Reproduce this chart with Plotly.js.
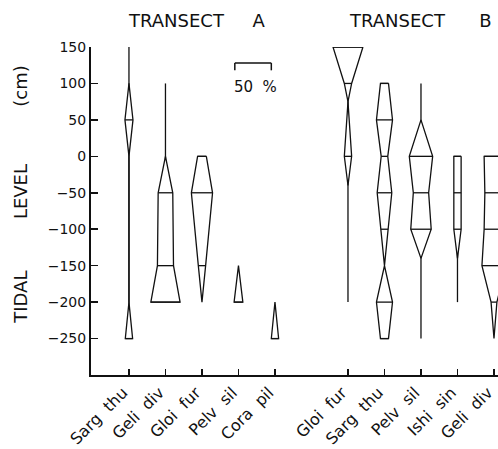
<!DOCTYPE html>
<html>
<head>
<meta charset="utf-8">
<script src="https://cdn.plot.ly/plotly-3.0.1.min.js"></script>
<style>html,body{margin:0;padding:0;background:#fff;overflow:hidden;}#chart{width:498px;height:449px;}</style>
</head>
<body>
<div id="chart"></div>
<script>
// ---- data ----
const species = ["Sarg thu", "Geli div", "Gloi fur", "Pelv sil", "Cora pil",
                 "Gloi fur", "Sarg thu", "Pelv sil", "Ishi sin", "Geli div"];
const speciesPos = [0, 1, 2, 3, 4, 6, 7, 8, 9, 10];
const transects = ["TRANSECT A", "TRANSECT B"];

// tidal levels (cm) and abundance (%) for each kite
const levels = [
  [100, 50, 0, -200, -250],
  [0, -50, -150, -200],
  [0, -50, -150, -200],
  [-150, -200],
  [-200, -250],
  [150, 100, 75, 0, -40],
  [100, 50, 0, -50, -100, -150, -200, -250],
  [50, 0, -50, -100, -140],
  [0, -50, -100, -140],
  [0, -50, -100, -150, -200, -250]
];
const abundance = [
  [0, 11, 0, 0, 10],
  [0, 20, 22, 40],
  [12, 29, 10, 0],
  [0, 12],
  [0, 10],
  [41, 10, 0, 10, 0],
  [11, 22, 9, 20, 10, 0, 22, 11],
  [0, 32, 21, 28, 0],
  [10, 10, 10, 0],
  [27, 25, 27, 33, 8, 0]
];
// vertical range line (present, low abundance)
const rangeTop    = [150, 100, null, null, null, 150, null, 100, 0, null];
const rangeBottom = [-250, -200, null, null, null, -200, null, -250, -200, null];

const yTickVals = [150, 100, 50, 0, -50, -100, -150, -200, -250];
const scaleBarPct = 50;

// ---- drawing ----
const INK = '#111';
const FONT = 'DejaVu Sans, sans-serif';
const NB = n => '\u00a0'.repeat(n);
const unitsPerPct = 1 / 50;   // full kite width: 50 % = 1 category spacing

const traces = [];
const vx = [], vy = [];
species.forEach((s, i) => {
  if (rangeTop[i] !== null) {
    vx.push(speciesPos[i], speciesPos[i], null);
    vy.push(rangeTop[i], rangeBottom[i], null);
  }
});
traces.push({type: 'scatter', mode: 'lines', x: vx, y: vy,
  line: {color: INK, width: 1.3}, hoverinfo: 'skip', showlegend: false});

const hx = [], hy = [];
species.forEach((s, i) => {
  const c = speciesPos[i];
  const lv = levels[i], ab = abundance[i];
  const px = [], py = [];
  for (let j = 0; j < lv.length; j++) { px.push(c + ab[j] * unitsPerPct / 2); py.push(lv[j]); }
  for (let j = lv.length - 1; j >= 0; j--) { px.push(c - ab[j] * unitsPerPct / 2); py.push(lv[j]); }
  px.push(px[0]); py.push(py[0]);
  traces.push({type: 'scatter', mode: 'lines', x: px, y: py, fill: 'toself',
    fillcolor: '#fff', line: {color: INK, width: 1.3}, name: s,
    hoverinfo: 'name', showlegend: false});
  for (let j = 0; j < lv.length; j++) {
    if (ab[j] > 0) {
      const h = ab[j] * unitsPerPct / 2;
      hx.push(c - h, c + h, null); hy.push(lv[j], lv[j], null);
    }
  }
});
traces.push({type: 'scatter', mode: 'lines', x: hx, y: hy,
  line: {color: INK, width: 1.3}, hoverinfo: 'skip', showlegend: false});

const sbW = scaleBarPct * unitsPerPct;
const sbX0 = 2.9, sbY = 128;

const tickText = species.map(s => s.replace(' ', NB(2)));
const tA = transects[0].split(' '), tB = transects[1].split(' ');

const layout = {
  width: 498, height: 449,
  margin: {l: 91, r: 0, t: 47, b: 74},
  paper_bgcolor: '#fff', plot_bgcolor: '#fff',
  font: {family: FONT, color: INK, size: 14},
  showlegend: false,
  xaxis: {
    range: [-1.04, 10.11], showgrid: false, zeroline: false,
    showline: true, linecolor: INK, linewidth: 2,
    ticks: 'inside', ticklen: 6, tickwidth: 1.5, tickcolor: INK,
    tickmode: 'array', tickvals: speciesPos, ticktext: tickText,
    tickangle: -45, ticklabeloverflow: 'allow', ticklabelshift: -6,
    tickfont: {family: FONT, size: 16, color: INK}
  },
  yaxis: {
    range: [-300, 150], showgrid: false, zeroline: false,
    showline: true, linecolor: INK, linewidth: 2,
    ticks: 'inside', ticklen: 7, tickwidth: 1.5, tickcolor: INK,
    tickmode: 'array', tickvals: yTickVals,
    tickfont: {family: FONT, size: 14, color: INK}
  },
  shapes: [
    {type: 'line', xref: 'x', yref: 'y', x0: sbX0, x1: sbX0 + sbW, y0: sbY, y1: sbY,
     line: {color: INK, width: 1.5}},
    {type: 'line', xref: 'x', yref: 'y', x0: sbX0, x1: sbX0, y0: sbY, y1: sbY - 10,
     line: {color: INK, width: 1.5}},
    {type: 'line', xref: 'x', yref: 'y', x0: sbX0 + sbW, x1: sbX0 + sbW, y0: sbY, y1: sbY - 10,
     line: {color: INK, width: 1.5}},
    {type: 'rect', xref: 'x', yref: 'y', x0: 8.52, x1: 8.66, y0: -306, y1: -293,
     fillcolor: '#fff', line: {width: 0}, layer: 'above'}
  ],
  annotations: [
    {text: tA[0] + NB(5) + tA[1], xref: 'x', yref: 'paper', x: -0.08, y: 1.082,
     xanchor: 'left', yanchor: 'middle', showarrow: false, font: {family: FONT, size: 18, color: INK}},
    {text: tB[0] + NB(6) + tB[1], xref: 'x', yref: 'paper', x: 5.98, y: 1.082,
     xanchor: 'left', yanchor: 'middle', showarrow: false, font: {family: FONT, size: 18, color: INK}},
    {text: 'TIDAL' + NB(9) + 'LEVEL' + NB(10) + '(cm)',
     xref: 'paper', yref: 'paper', x: -0.174, y: 0.55, textangle: -90,
     xanchor: 'center', yanchor: 'middle', showarrow: false, font: {family: FONT, size: 18, color: INK}},
    {text: scaleBarPct + NB(2) + '%', xref: 'x', yref: 'y', x: 3.47, y: 95,
     xanchor: 'center', yanchor: 'middle', showarrow: false, font: {family: FONT, size: 15, color: INK}}
  ]
};

Plotly.newPlot('chart', traces, layout, {displayModeBar: false, staticPlot: true});
</script>
</body>
</html>
